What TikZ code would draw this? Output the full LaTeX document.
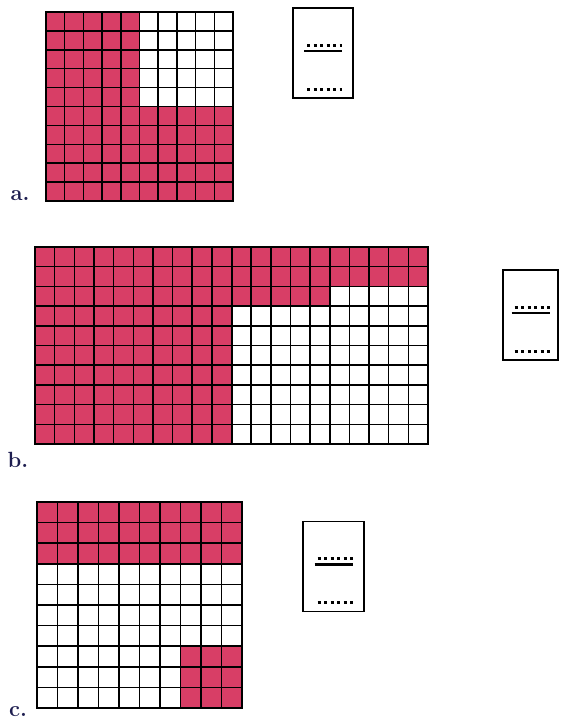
\documentclass[tikz,border=0pt]{standalone}
\usetikzlibrary{calc}
\definecolor{cellpink}{RGB}{216,62,102}
\definecolor{tagnavy}{RGB}{30,30,80}
\begin{document}
\begin{tikzpicture}[x=1pt, y=-1pt,
  gridline/.style={line width=1.5pt, color=black},
  gridframe/.style={line width=2pt, color=black},
  shade/.style={fill=cellpink},
  fracbox/.style={draw, line width=1.8pt, minimum width=60pt, minimum height=90pt, inner sep=0pt},
  dotrow/.style={line width=3pt, dash pattern=on 3.2pt off 3.3pt},
  fracbar/.style={line width=2.6pt},
  tag/.style={font=\fontsize{22}{22}\selectfont\bfseries, color=tagnavy, inner sep=0pt},
]
\useasboundingbox (0,0) rectangle (562,723);
% ---- grid a: 10 x 10, top-right 5 x 5 blank ----
\begin{scope}[shift={(46pt,-12pt)}, x=18.7pt, y=-18.9pt]
  \fill[shade] (0,0) rectangle (10,10);
  \fill[white] (5,0) rectangle (10,5);
  \foreach \i in {1,...,9} {
    \draw[gridline] (\i,0) -- (\i,10);
    \draw[gridline] (0,\i) -- (10,\i);
  }
  \draw[gridframe] (0,0) rectangle (10,10);
\end{scope}
% ---- grid b: two 10 x 10 squares side by side ----
\begin{scope}[shift={(35pt,-247pt)}, x=19.65pt, y=-19.7pt]
  \fill[shade] (0,0) rectangle (10,10);
  \fill[shade] (10,0) rectangle (20,2);
  \fill[shade] (10,2) rectangle (15,3);
  \foreach \i in {1,...,19} {
    \draw[gridline] (\i,0) -- (\i,10);
  }
  \foreach \i in {1,...,9} {
    \draw[gridline] (0,\i) -- (20,\i);
  }
  \draw[gridframe] (10,0) -- (10,10);
  \draw[gridframe] (0,0) rectangle (20,10);
\end{scope}
% ---- grid c: 10 x 10, top 3 rows and a 3 x 3 corner ----
\begin{scope}[shift={(37pt,-502pt)}, x=20.5pt, y=-20.6pt]
  \fill[shade] (0,0) rectangle (10,3);
  \fill[shade] (7,7) rectangle (10,10);
  \foreach \i in {1,...,9} {
    \draw[gridline] (\i,0) -- (\i,10);
    \draw[gridline] (0,\i) -- (10,\i);
  }
  \draw[gridframe] (0,0) rectangle (10,10);
\end{scope}
% ---- labels ----
\node[tag] (taga) at (20,196) {a.};
\node[tag] (tagb) at (18,460) {b.};
\node[tag] (tagc) at (18,712) {c.};
% ---- blank fraction cards ----
\node[fracbox] (fraca) at (323,53) {};
\node[fracbox, minimum width=55pt] (fracb) at (530.5,315) {};
\node[fracbox, minimum width=61pt] (fracc) at (333.5,566.5) {};
\foreach \f in {fraca,fracb,fracc} {
  \draw[dotrow] ($(\f.center)+(-16,-8)$) -- ++(35,0);
  \draw[fracbar] ($(\f.center)+(-19,-2)$) -- ++(38,0);
  \draw[dotrow] ($(\f.center)+(-16,36)$) -- ++(35,0);
}
\end{tikzpicture}
\end{document}
